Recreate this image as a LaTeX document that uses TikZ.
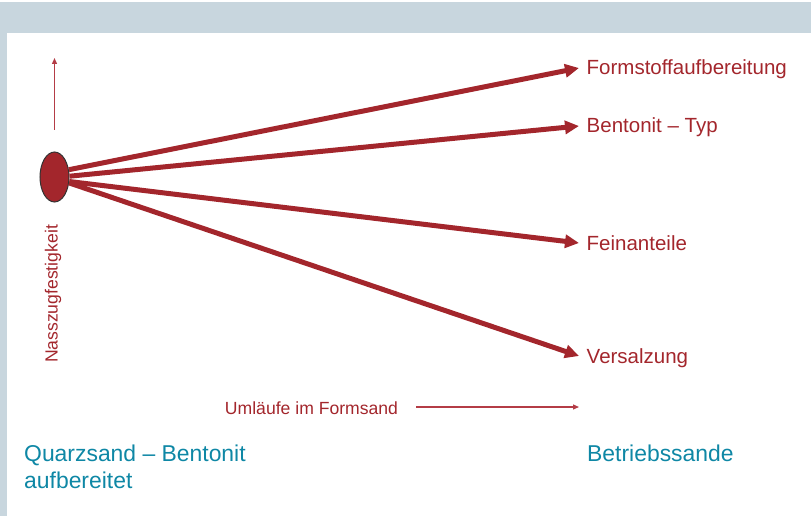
\documentclass[tikz,border=0pt]{standalone}
\usepackage{fontspec}
\setmainfont{Liberation Sans}
\usetikzlibrary{arrows.meta,shapes.geometric}
\definecolor{sandred}{RGB}{163,38,44}
\definecolor{thinred}{RGB}{180,60,70}
\definecolor{sandblue}{RGB}{14,135,165}
\definecolor{bandgray}{RGB}{200,214,222}
\tikzset{
    bigarrow/.style={-{Triangle[length=14pt,width=13pt]},line width=5pt,color=sandred},
    thinarrow/.style={-{Triangle[length=6pt,width=5pt]},line width=1.3pt,color=thinred},
    lbl/.style={anchor=west,inner xsep=7.5pt,inner ysep=0pt,text height=14pt,text depth=0pt,
        color=sandred,font=\fontsize{20.5}{24}\selectfont},
    axislbl/.style={color=sandred,font=\fontsize{17.6}{21}\selectfont},
    sandlbl/.style={anchor=base west,inner sep=0pt,color=sandblue,font=\fontsize{22.9}{27}\selectfont}
}
\begin{document}
\begin{tikzpicture}[x=1pt,y=-1pt]
        \useasboundingbox (0,0) rectangle (811,516);
        \fill[bandgray] (0,2) rectangle (811,33);
        \fill[bandgray] (0,33) rectangle (7,516);
        \node[ellipse,fill=sandred,draw=black!80,line width=1pt,inner sep=0pt,
            minimum width=29pt,minimum height=50pt] (sand) at (54.5,177) {};
        \node[lbl] (fst) at (579,68) {Formstoffaufbereitung};
        \node[lbl] (ben) at (579,126) {Bentonit -- Typ};
        \node[lbl] (fein) at (579,243) {Feinanteile};
        \node[lbl] (vers) at (579,356) {Versalzung};
        \foreach \ang/\to in {27/fst,3/ben,-17/fein,-22/vers}
            \draw[bigarrow] (sand.\ang) -- (\to.west);
        % axes
        \coordinate (up0) at (54.5,130);
        \coordinate (up1) at (54.5,58);
        \draw[thinarrow] (up0) -- (up1);
        \node[axislbl,rotate=90] (nzf) at (53,294) {Nasszugfestigkeit};
        \node[axislbl,anchor=base] (uml) at (311.5,414) {Umläufe im Formsand};
        \coordinate (rt0) at (416,407);
        \coordinate (rt1) at (579,407);
        \draw[thinarrow] (rt0) -- (rt1);
        \node[sandlbl] (qb) at (24,461) {Quarzsand -- Bentonit};
        \node[sandlbl] (qb2) at (24,488) {aufbereitet};
        \node[sandlbl] (bs) at (587,461) {Betriebssande};
    \end{tikzpicture}
\end{document}
